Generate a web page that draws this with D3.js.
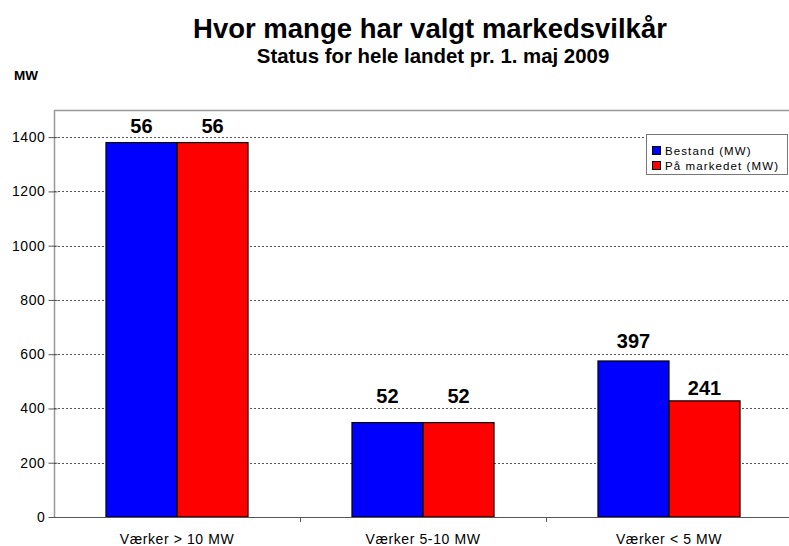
<!DOCTYPE html>
<html><head><meta charset="utf-8">
<script src="https://cdn.jsdelivr.net/npm/d3@7"></script>
<style>body{margin:0;background:#fff}svg{display:block;font-family:"Liberation Sans",Arial,sans-serif}</style>
</head><body>
<svg id="c" width="789" height="546"></svg>
<script>
const categories = ["Værker > 10 MW", "Værker 5-10 MW", "Værker < 5 MW"];
const seriesNames = ["Bestand (MW)", "På markedet (MW)"];
const bestand = [1380, 348, 575];
const paaMarkedet = [1380, 348, 428];
const bestandLabels = ["56", "52", "397"];
const markedLabels = ["56", "52", "241"];
const yTicks = [0, 200, 400, 600, 800, 1000, 1200, 1400];
const colors = ["#0000ff", "#ff0000"];

const svg = d3.select("#c");
const L = 54, R = 792, T = 110, B = 517;
const y = d3.scaleLinear().domain([0, 1500]).range([B, T]);
const x0 = d3.scaleBand().domain(categories).range([L, R]).paddingInner(0).paddingOuter(0);
const x1 = d3.scaleBand().domain([0, 1]).range([0, x0.bandwidth()]).paddingInner(0).paddingOuter(0.732);
// label gaps above bars (style), per category / series
const labelGap = [[10, 10], [20, 20], [13, 6]];

// plot border (top & left)
svg.append("line").attr("x1", L).attr("x2", 789).attr("y1", T + 0.5).attr("y2", T + 0.5).attr("stroke", "#999").attr("stroke-width", 1.5);
svg.append("line").attr("x1", L + 0.5).attr("x2", L + 0.5).attr("y1", T).attr("y2", B).attr("stroke", "#999").attr("stroke-width", 1.5);

// grid
svg.append("g").selectAll("line").data(yTicks.filter(d => d > 0)).join("line")
  .attr("x1", L).attr("x2", 789).attr("y1", d => Math.round(y(d)) + 0.5).attr("y2", d => Math.round(y(d)) + 0.5)
  .attr("stroke", "#555").attr("stroke-dasharray", "2,2").attr("stroke-width", 1);

// y axis
const ya = svg.append("g").attr("transform", `translate(${L + 0.5},0)`)
  .call(d3.axisLeft(y).tickValues(yTicks).tickFormat(d3.format("d")).tickSize(6).tickPadding(3));
ya.select(".domain").remove();
ya.selectAll(".tick line").attr("stroke", "#555").attr("x2", 3).attr("x1", -6);
ya.selectAll("text").attr("font-size", 14).attr("letter-spacing", 0.6).attr("fill", "#000").attr("font-family", "Liberation Sans, Arial, sans-serif");

// bars
const data = categories.map((c, i) => ({c, i, v: [bestand[i], paaMarkedet[i]], l: [bestandLabels[i], markedLabels[i]]}));
const g = svg.append("g").selectAll("g").data(data).join("g")
  .attr("transform", d => `translate(${x0(d.c)},0)`);
g.selectAll("rect").data(d => d.v.map((v, k) => ({v, k}))).join("rect")
  .attr("x", d => x1(d.k)).attr("width", x1.bandwidth())
  .attr("y", d => y(d.v)).attr("height", d => B - y(d.v))
  .attr("fill", d => colors[d.k]).attr("stroke", "#000").attr("stroke-width", 1.2);
g.selectAll("text").data(d => d.v.map((v, k) => ({v, k, i: d.i, l: d.l[k]}))).join("text")
  .attr("x", d => x1(d.k) + x1.bandwidth() / 2).attr("y", d => y(d.v) - labelGap[d.i][d.k])
  .attr("text-anchor", "middle").attr("font-weight", "bold").attr("font-size", 20).text(d => d.l);

// x axis
svg.append("line").attr("x1", L).attr("x2", 789).attr("y1", B + 0.5).attr("y2", B + 0.5).attr("stroke", "#555").attr("stroke-width", 1.2);
svg.append("g").selectAll("line").data(categories.slice(1)).join("line")
  .attr("x1", d => Math.round(x0(d)) + 0.5).attr("x2", d => Math.round(x0(d)) + 0.5)
  .attr("y1", B).attr("y2", B + 5).attr("stroke", "#555");
svg.append("g").selectAll("text").data(categories).join("text")
  .attr("x", d => x0(d) + x0.bandwidth() / 2).attr("y", 544)
  .attr("text-anchor", "middle").attr("font-size", 14).attr("letter-spacing", 0.6).text(d => d);

// titles
svg.append("text").attr("x", 430).attr("y", 38).attr("text-anchor", "middle")
  .attr("font-weight", "bold").attr("font-size", 27.5).text("Hvor mange har valgt markedsvilkår");
svg.append("text").attr("x", 433).attr("y", 63).attr("text-anchor", "middle")
  .attr("font-weight", "bold").attr("font-size", 20.4).text("Status for hele landet pr. 1. maj 2009");
svg.append("text").attr("x", 14).attr("y", 80).attr("font-weight", "bold").attr("font-size", 13.5).text("MW");

// legend
const lg = svg.append("g").attr("transform", "translate(646.5,134.5)");
lg.append("rect").attr("width", 141).attr("height", 40).attr("fill", "#fff").attr("stroke", "#777");
const le = lg.selectAll("g").data(seriesNames).join("g").attr("transform", (d, i) => `translate(6,${12 + i * 15})`);
le.append("rect").attr("width", 8).attr("height", 8).attr("y", 0).attr("fill", (d, i) => colors[i]).attr("stroke", "#000");
le.append("text").attr("x", 12.5).attr("y", 8.5).attr("font-size", 11.5).attr("letter-spacing", 1.1).text(d => d);
</script>
</body></html>
